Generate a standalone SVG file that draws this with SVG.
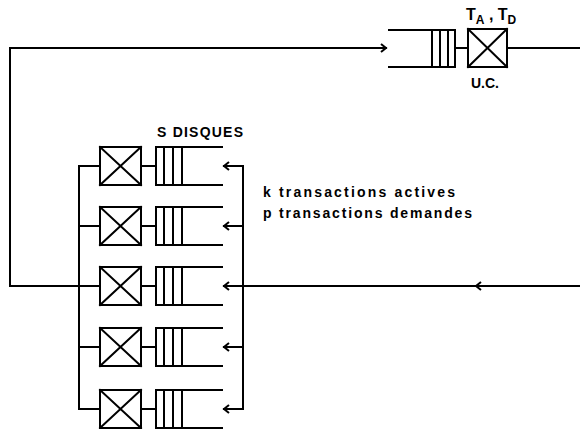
<svg xmlns="http://www.w3.org/2000/svg" width="580" height="429" viewBox="0 0 580 429">
<style>
.l{stroke:#000;stroke-width:2;fill:none;stroke-linecap:square}
.t{font-family:"Liberation Sans",Arial,sans-serif;font-weight:bold;fill:#000}
</style>
<defs>
<marker id="ah" markerWidth="10" markerHeight="10" refX="8" refY="5" orient="auto" markerUnits="userSpaceOnUse">
<path d="M3,1 L8,5 L3,9" fill="none" stroke="#000" stroke-width="2"/>
</marker>
<g id="srv"><rect x="0" y="-19" width="41" height="38" class="l"/><path d="M0,-19 L41,19 M0,19 L41,-19" class="l"/></g>
<g id="dq"><path d="M66,-19 H122 M66,19 H122 M56,-19 V19 M56,-19 H66 M56,19 H66 M64,-19 V19 M73,-19 V19 M82,-19 V19 M41,0 H56" class="l"/></g>
</defs>
<g id="connectors">
<path d="M100,286 H10 V48 H386" class="l" marker-end="url(#ah)"/>
<path d="M580,286 H243" class="l"/>
<path d="M580,286 H476" class="l" marker-end="url(#ah)"/>
<path d="M507,48 H580" class="l"/>
<path d="M455,48 H468" class="l"/>
<path d="M79,166 V409 M79,166 H100 M79,226 H100 M79,347 H100 M79,409 H100" class="l"/>
<path d="M243,166 V409" class="l"/>
<path d="M243,166 H224" class="l" marker-end="url(#ah)"/>
<path d="M243,226 H224" class="l" marker-end="url(#ah)"/>
<path d="M243,286 H224" class="l" marker-end="url(#ah)"/>
<path d="M243,347 H224" class="l" marker-end="url(#ah)"/>
<path d="M243,409 H224" class="l" marker-end="url(#ah)"/>
</g>
<g id="uc">
<path d="M389,30 H455 M389,67 H455 M432,30 V67 M440,30 V67 M448,30 V67 M455,30 V67" class="l"/>
<rect x="468" y="29" width="39" height="38" class="l"/>
<path d="M468,29 L507,67 M468,67 L507,29" class="l"/>
<text class="t" x="466" y="20" font-size="16" font-weight="normal">T<tspan font-size="12" dy="4">A</tspan><tspan dy="-4"> , T</tspan><tspan font-size="12" dy="4">D</tspan></text>
<text class="t" x="471" y="88" font-size="14" font-weight="normal">U.C.</text>
</g>
<g id="disk1" transform="translate(100,166)"><use href="#srv"/><use href="#dq"/></g>
<g id="disk2" transform="translate(100,226)"><use href="#srv"/><use href="#dq"/></g>
<g id="disk3" transform="translate(100,286)"><use href="#srv"/><use href="#dq"/></g>
<g id="disk4" transform="translate(100,347)"><use href="#srv"/><use href="#dq"/></g>
<g id="disk5" transform="translate(100,409)"><use href="#srv"/><use href="#dq"/></g>
<g id="labels">
<text class="t" x="157" y="137" font-size="14" textLength="86" lengthAdjust="spacing">S DISQUES</text>
<text class="t" x="263" y="197" font-size="14" textLength="192" lengthAdjust="spacing">k transactions actives</text>
<text class="t" x="263" y="218" font-size="14" textLength="209" lengthAdjust="spacing">p transactions demandes</text>
</g>
</svg>
